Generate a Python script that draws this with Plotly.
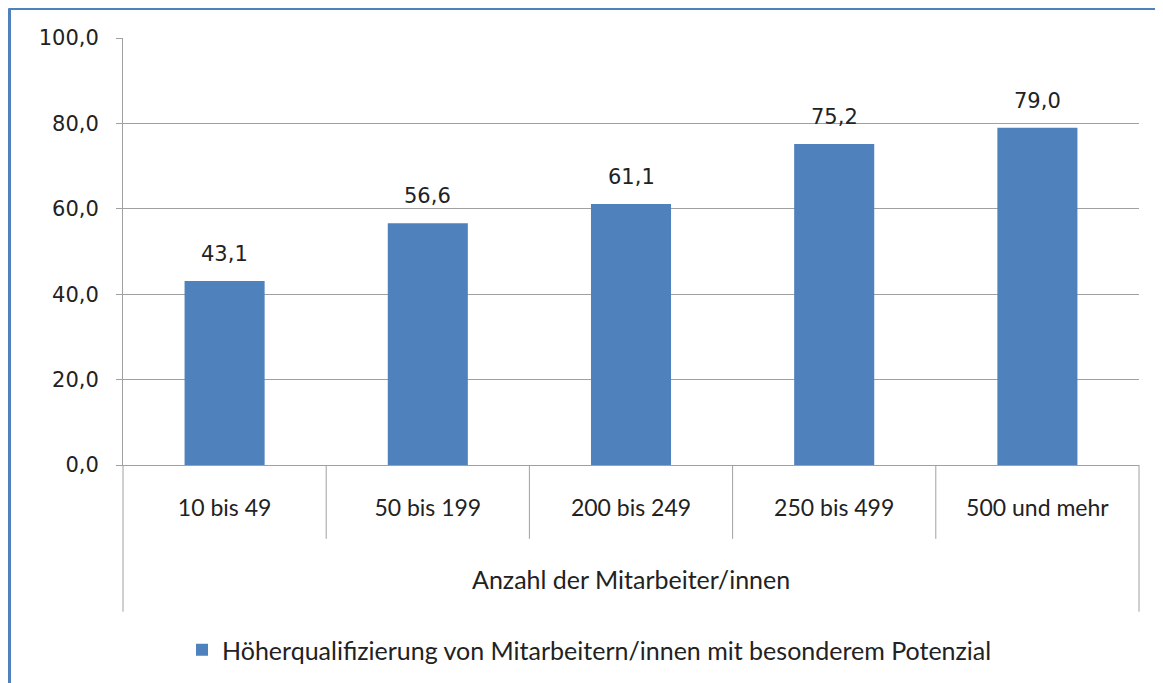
import plotly.graph_objects as go

categories = ["10 bis 49", "50 bis 199", "200 bis 249", "250 bis 499", "500 und mehr"]
values = [43.1, 56.6, 61.1, 75.2, 79.0]
series_name = "Höherqualifizierung von Mitarbeitern/innen mit besonderem Potenzial"
axis_title = "Anzahl der Mitarbeiter/innen"
y_ticks = [0, 20, 40, 60, 80, 100]

# page geometry (browser body has an 8px margin)
W, H = 1163, 683
OFF = 8
L, R, T, B = 123, 1139, 38, 466
pw, ph = R - L, B - T

def px_x(x):
    return (x - L) / pw

def px_y(y):
    return (B - y) / ph

bar_color = "#4F81BD"
grid_color = "#a0a0a0"
label_font = "Lato, 'Open Sans', sans-serif"
num_font = "'DejaVu Sans', Verdana, sans-serif"
txt_color = "#222222"

fig = go.Figure()
fig.add_trace(go.Bar(
    x=categories, y=values, name=series_name,
    marker=dict(color=bar_color, line=dict(width=0)),
    width=0.394,
))

shapes = []
n = len(categories)
for i in range(n + 1):
    xp = i / n
    yend = px_y(613) if i in (0, n) else px_y(540)
    shapes.append(dict(type="line", xref="paper", yref="paper", x0=xp, x1=xp, y0=0, y1=yend,
                       line=dict(color=grid_color, width=1)))
# outer blue border (top & left)
shapes.append(dict(type="line", xref="paper", yref="paper", x0=px_x(8.5), x1=px_x(W + 20), y0=px_y(8.5), y1=px_y(8.5),
                   line=dict(color="#4F81BD", width=3)))
shapes.append(dict(type="line", xref="paper", yref="paper", x0=px_x(9.5), x1=px_x(9.5), y0=px_y(8.5), y1=px_y(H + 20),
                   line=dict(color="#4F81BD", width=3)))

annotations = []
for c, v in zip(categories, values):
    annotations.append(dict(x=c, y=v, xref="x", yref="y", text=f"{v:.1f}".replace(".", ","),
                            showarrow=False, yshift=27, font=dict(family=num_font, size=21, color=txt_color)))
annotations.append(dict(x=0.5, y=px_y(580), xref="paper", yref="paper", text=axis_title, showarrow=False,
                        yanchor="middle", font=dict(family=label_font, size=25, color=txt_color)))

fig.update_layout(
    width=W - OFF, height=H - OFF,
    margin=dict(l=L - OFF, r=W - R, t=T - OFF, b=H - B, pad=0),
    paper_bgcolor="white", plot_bgcolor="white",
    separators=",.",
    shapes=shapes, annotations=annotations,
    showlegend=True,
    legend=dict(orientation="h", x=px_x(182), y=px_y(650), xanchor="left", yanchor="middle",
                font=dict(family=label_font, size=25, color=txt_color), itemwidth=30),
    xaxis=dict(type="category", range=[-0.5, n - 0.5], showgrid=False, showline=True, linecolor=grid_color,
               ticks="", ticklabelstandoff=22, tickfont=dict(family=label_font, size=23, color=txt_color)),
    yaxis=dict(range=[0, 100], tickvals=y_ticks, tickformat=".1f", showgrid=True, gridcolor=grid_color,
               gridwidth=1, showline=True, linecolor=grid_color, ticks="outside", ticklen=6,
               tickcolor=grid_color, zeroline=False, ticklabelstandoff=13,
               tickfont=dict(family=num_font, size=21, color=txt_color)),
)

fig.write_html("out.html")
